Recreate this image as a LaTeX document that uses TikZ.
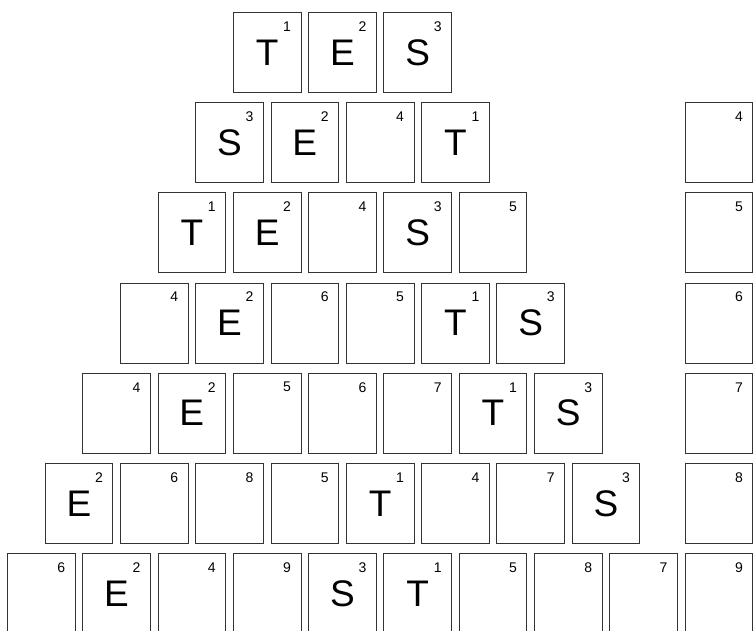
\documentclass[tikz,border=0pt]{standalone}
\usepackage{fontspec}
\setmainfont{Liberation Sans}
\begin{document}
\begin{tikzpicture}[
        x=1pt, y=1pt,
        tile/.style={rectangle, draw=black!80, line width=0.75pt, inner sep=0pt, minimum width=67.7pt, minimum height=80pt, font=\fontsize{37}{37}\selectfont},
        numLabel/.style={anchor=center, inner sep=0pt, xshift=-14.2pt, yshift=-14.5pt, font=\fontsize{14}{14}\selectfont},
        tileNum/.style={label={[numLabel]north east:#1}}
    ]
        \clip (0, 0) rectangle (755, -630);

        \node[tile, tileNum=1] (r1c1) at (267.1, -52.3) {T};
        \node[tile, tileNum=2] (r1c2) at (342.4, -52.3) {E};
        \node[tile, tileNum=3] (r1c3) at (417.7, -52.3) {S};

        \node[tile, tileNum=3] (r2c1) at (229.5, -142.5) {S};
        \node[tile, tileNum=2] (r2c2) at (304.8, -142.5) {E};
        \node[tile, tileNum=4] (r2c3) at (380.1, -142.5) {};
        \node[tile, tileNum=1] (r2c4) at (455.4, -142.5) {T};

        \node[tile, tileNum=1] (r3c1) at (191.8, -232.7) {T};
        \node[tile, tileNum=2] (r3c2) at (267.1, -232.7) {E};
        \node[tile, tileNum=4] (r3c3) at (342.4, -232.7) {};
        \node[tile, tileNum=3] (r3c4) at (417.7, -232.7) {S};
        \node[tile, tileNum=5] (r3c5) at (493.0, -232.7) {};

        \node[tile, tileNum=4] (r4c1) at (154.2, -322.9) {};
        \node[tile, tileNum=2] (r4c2) at (229.5, -322.9) {E};
        \node[tile, tileNum=6] (r4c3) at (304.8, -322.9) {};
        \node[tile, tileNum=5] (r4c4) at (380.1, -322.9) {};
        \node[tile, tileNum=1] (r4c5) at (455.4, -322.9) {T};
        \node[tile, tileNum=3] (r4c6) at (530.7, -322.9) {S};

        \node[tile, tileNum=4] (r5c1) at (116.5, -413.1) {};
        \node[tile, tileNum=2] (r5c2) at (191.8, -413.1) {E};
        \node[tile, tileNum=5] (r5c3) at (267.1, -413.1) {};
        \node[tile, tileNum=6] (r5c4) at (342.4, -413.1) {};
        \node[tile, tileNum=7] (r5c5) at (417.7, -413.1) {};
        \node[tile, tileNum=1] (r5c6) at (493.0, -413.1) {T};
        \node[tile, tileNum=3] (r5c7) at (568.3, -413.1) {S};

        \node[tile, tileNum=2] (r6c1) at (78.9, -503.3) {E};
        \node[tile, tileNum=6] (r6c2) at (154.2, -503.3) {};
        \node[tile, tileNum=8] (r6c3) at (229.5, -503.3) {};
        \node[tile, tileNum=5] (r6c4) at (304.8, -503.3) {};
        \node[tile, tileNum=1] (r6c5) at (380.1, -503.3) {T};
        \node[tile, tileNum=4] (r6c6) at (455.4, -503.3) {};
        \node[tile, tileNum=7] (r6c7) at (530.7, -503.3) {};
        \node[tile, tileNum=3] (r6c8) at (606.0, -503.3) {S};

        \node[tile, tileNum=6] (r7c1) at (41.2, -593.5) {};
        \node[tile, tileNum=2] (r7c2) at (116.5, -593.5) {E};
        \node[tile, tileNum=4] (r7c3) at (191.8, -593.5) {};
        \node[tile, tileNum=9] (r7c4) at (267.1, -593.5) {};
        \node[tile, tileNum=3] (r7c5) at (342.4, -593.5) {S};
        \node[tile, tileNum=1] (r7c6) at (417.7, -593.5) {T};
        \node[tile, tileNum=5] (r7c7) at (493.0, -593.5) {};
        \node[tile, tileNum=8] (r7c8) at (568.3, -593.5) {};
        \node[tile, tileNum=7] (r7c9) at (643.6, -593.5) {};

        \node[tile, tileNum=4] (side2) at (718.9, -142.5) {};
        \node[tile, tileNum=5] (side3) at (718.9, -232.7) {};
        \node[tile, tileNum=6] (side4) at (718.9, -322.9) {};
        \node[tile, tileNum=7] (side5) at (718.9, -413.1) {};
        \node[tile, tileNum=8] (side6) at (718.9, -503.3) {};
        \node[tile, tileNum=9] (side7) at (718.9, -593.5) {};
    \end{tikzpicture}
\end{document}
